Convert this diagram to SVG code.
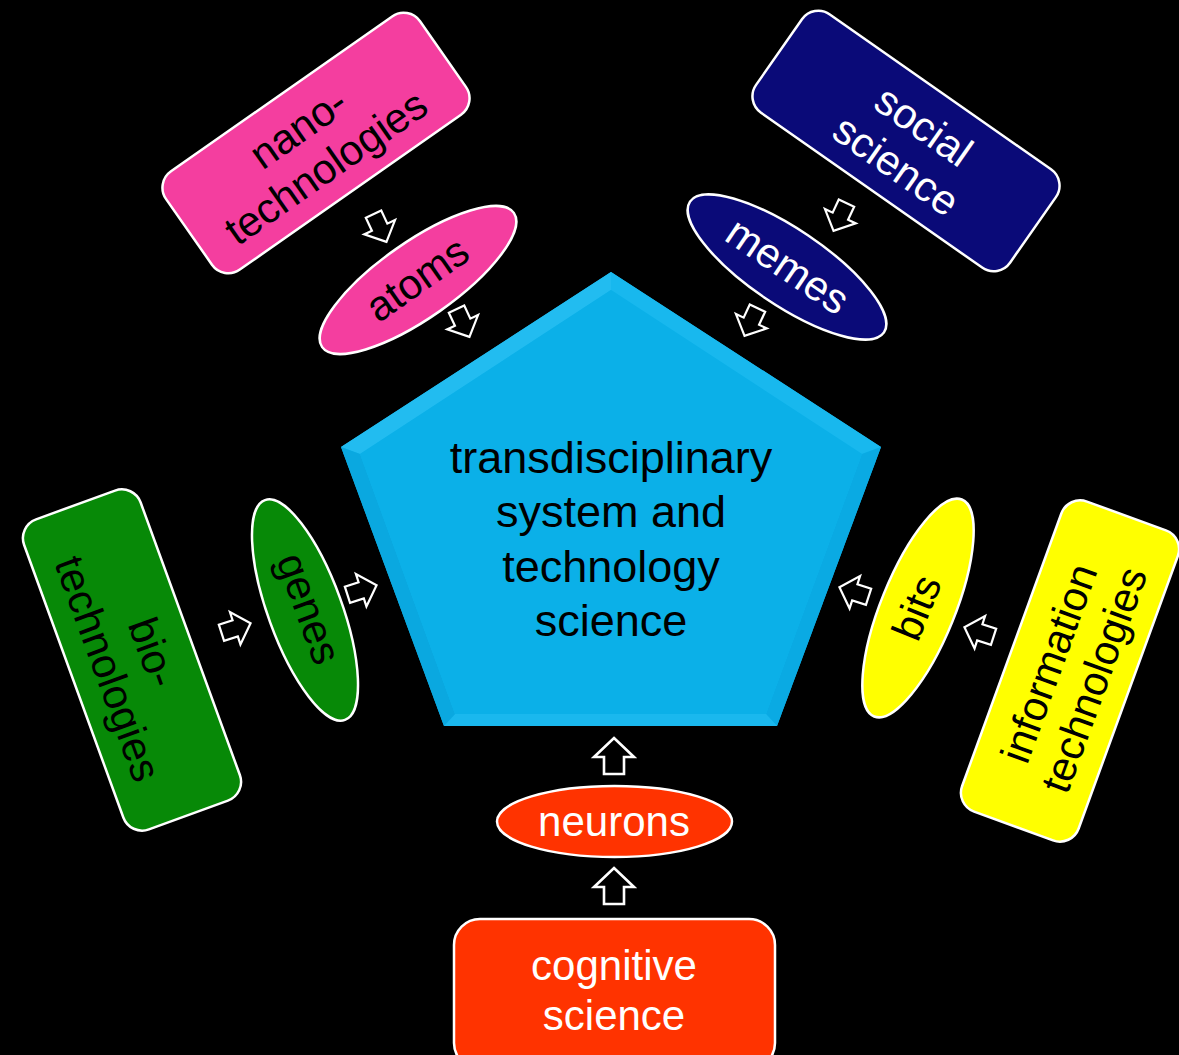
<svg xmlns="http://www.w3.org/2000/svg" xmlns:xlink="http://www.w3.org/1999/xlink" width="1179" height="1055" viewBox="0 0 1179 1055">
<style>
.lbl{font-family:"Liberation Sans",Arial,sans-serif;font-size:42px;text-anchor:middle}
.dark{fill:#000}
.light{fill:#fff}
.shape{stroke:#fff;stroke-width:2.5}
.arrow{fill:#000;stroke:#fff;stroke-width:2.6;stroke-linejoin:miter}
.pink{fill:#f43e9f}
.navy{fill:#0a0a78}
.green{fill:#078907}
.yellow{fill:#ffff00}
.red{fill:#ff3300}
</style>
<defs>
<path id="arr" d="M0,-18 L20,1 L10,1 L10,18 L-10,18 L-10,1 L-20,1 Z"/>
</defs>
<rect x="0" y="0" width="1179" height="1055" fill="#000"/>

<g id="center">
<polygon points="611,272 881,447 777,726 444,726 341,447" fill="#12b4ec"/>
<polygon points="611,272 611,290 360,454 341,447" fill="#22bcf0"/>
<polygon points="611,272 881,447 862,454 611,290" fill="#18b8ee"/>
<polygon points="881,447 777,726 766,714 862,454" fill="#0aaae3"/>
<polygon points="777,726 444,726 455,714 766,714" fill="#1ab8ee"/>
<polygon points="444,726 341,447 360,454 455,714" fill="#0aa8e0"/>
<polygon points="611,290 862,454 766,714 455,714 360,454" fill="#0bb0e8"/>
<text class="lbl dark" style="font-size:45px" x="611" y="473">transdisciplinary</text>
<text class="lbl dark" style="font-size:45px" x="611" y="527">system and</text>
<text class="lbl dark" style="font-size:45px" x="611" y="582">technology</text>
<text class="lbl dark" style="font-size:45px" x="611" y="636">science</text>
</g>

<g id="nano" transform="translate(316,143) rotate(-35)">
<rect class="shape pink" x="-155" y="-60" width="310" height="120" rx="20"/>
<text class="lbl dark" x="-6" y="-8">nano-</text>
<text class="lbl dark" x="-6" y="40">technologies</text>
</g>
<g id="atoms" transform="translate(418,280) rotate(-35)">
<ellipse class="shape pink" cx="0" cy="0" rx="117" ry="38"/>
<text class="lbl dark" x="0" y="13">atoms</text>
</g>

<g id="social" transform="translate(906,141) rotate(35)">
<rect class="shape navy" x="-155" y="-60" width="310" height="120" rx="20"/>
<text class="lbl light" x="6" y="-8">social</text>
<text class="lbl light" x="6" y="40">science</text>
</g>
<g id="memes" transform="translate(787,267) rotate(34)">
<ellipse class="shape navy" cx="0" cy="0" rx="117" ry="38"/>
<text class="lbl light" x="0" y="13">memes</text>
</g>

<g id="bio" transform="translate(132,660) rotate(70)">
<rect class="shape green" x="-165" y="-62" width="330" height="124" rx="20"/>
<text class="lbl dark" x="0" y="-8">bio-</text>
<text class="lbl dark" x="0" y="40">technologies</text>
</g>
<g id="genes" transform="translate(305,610) rotate(70)">
<ellipse class="shape green" cx="0" cy="0" rx="117" ry="37"/>
<text class="lbl dark" x="0" y="10">genes</text>
</g>

<g id="info" transform="translate(1070,671) rotate(-70)">
<rect class="shape yellow" x="-165" y="-62" width="330" height="124" rx="20"/>
<text class="lbl dark" x="0" y="-8">information</text>
<text class="lbl dark" x="0" y="40">technologies</text>
</g>
<g id="bits" transform="translate(918,608) rotate(-68)">
<ellipse class="shape yellow" cx="0" cy="0" rx="117" ry="37"/>
<text class="lbl dark" x="0" y="13">bits</text>
</g>

<g id="neurons">
<ellipse class="shape red" cx="614.5" cy="821.5" rx="117.5" ry="35.5"/>
<text class="lbl light" x="614" y="836">neurons</text>
</g>
<g id="cognitive">
<rect class="shape red" x="454" y="919" width="321" height="150" rx="26"/>
<text class="lbl light" x="614" y="980">cognitive</text>
<text class="lbl light" x="614" y="1030">science</text>
</g>

<g id="connectors">
<use xlink:href="#arr" class="arrow" transform="translate(380,228) rotate(155) scale(0.85)"/>
<use xlink:href="#arr" class="arrow" transform="translate(463,323) rotate(155) scale(0.85)"/>
<use xlink:href="#arr" class="arrow" transform="translate(840,217) rotate(205) scale(0.85)"/>
<use xlink:href="#arr" class="arrow" transform="translate(751,322) rotate(205) scale(0.85)"/>
<use xlink:href="#arr" class="arrow" transform="translate(236,628) rotate(72) scale(0.85)"/>
<use xlink:href="#arr" class="arrow" transform="translate(362,590) rotate(72) scale(0.85)"/>
<use xlink:href="#arr" class="arrow" transform="translate(854,592) rotate(-72) scale(0.85)"/>
<use xlink:href="#arr" class="arrow" transform="translate(979,632) rotate(-72) scale(0.85)"/>
<use xlink:href="#arr" class="arrow" transform="translate(614,756)"/>
<use xlink:href="#arr" class="arrow" transform="translate(614,886)"/>
</g>
</svg>
